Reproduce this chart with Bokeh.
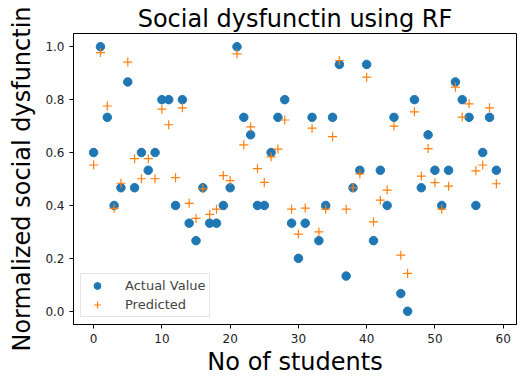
from bokeh.plotting import figure
from bokeh.models import Legend, LegendItem, FixedTicker, Range1d
from bokeh.embed import file_html
from bokeh.resources import INLINE

students = list(range(60))
actual = [0.6, 1.0, 0.733, 0.4, 0.467, 0.867, 0.467, 0.6, 0.533, 0.6,
          0.8, 0.8, 0.4, 0.8, 0.333, 0.267, 0.467, 0.333, 0.333, 0.4,
          0.467, 1.0, 0.733, 0.667, 0.4, 0.4, 0.6, 0.733, 0.8, 0.333,
          0.2, 0.333, 0.733, 0.267, 0.4, 0.733, 0.933, 0.133, 0.467, 0.533,
          0.933, 0.267, 0.533, 0.4, 0.733, 0.067, 0.0, 0.8, 0.467, 0.667,
          0.533, 0.4, 0.533, 0.867, 0.8, 0.733, 0.4, 0.6, 0.733, 0.533]
predicted = [0.553, 0.978, 0.776, 0.389, 0.484, 0.942, 0.577, 0.501, 0.577, 0.501,
             0.764, 0.705, 0.505, 0.769, 0.408, 0.351, 0.463, 0.366, 0.386, 0.513,
             0.494, 0.973, 0.629, 0.697, 0.539, 0.487, 0.584, 0.613, 0.723, 0.386,
             0.292, 0.39, 0.692, 0.30, 0.386, 0.66, 0.948, 0.386, 0.467, 0.519,
             0.885, 0.338, 0.42, 0.458, 0.70, 0.212, 0.143, 0.754, 0.511, 0.615,
             0.486, 0.386, 0.473, 0.847, 0.734, 0.784, 0.531, 0.553, 0.769, 0.482]
x_ticks = [0, 10, 20, 30, 40, 50, 60]
y_ticks = [0.0, 0.2, 0.4, 0.6, 0.8, 1.0]

FONT = "DejaVu Sans"

p = figure(width=528, height=378, output_backend="svg", toolbar_location=None,
           x_range=Range1d(-2.95, 61.95), y_range=Range1d(-0.05, 1.05),
           min_border_left=73, min_border_right=12, min_border_top=33, min_border_bottom=54)

p.title.text = "Social dysfunctin using RF"
p.title.align = "center"
p.title.text_font = FONT
p.title.text_font_size = "24px"
p.title.text_font_style = "normal"
p.title.text_color = "black"
p.title.standoff = 2

p.xgrid.visible = False
p.ygrid.visible = False
p.outline_line_color = "black"
p.outline_line_width = 1
p.background_fill_color = "white"
p.border_fill_color = "white"

for ax in (p.xaxis[0], p.yaxis[0]):
    ax.major_tick_in = 0
    ax.major_tick_out = 4
    ax.minor_tick_in = 0
    ax.minor_tick_out = 0
    ax.major_label_text_font = FONT
    ax.major_label_text_font_size = "12px"
    ax.major_label_text_color = "#222222"
    ax.axis_label_text_font = FONT
    ax.axis_label_text_font_size = "24px"
    ax.axis_label_text_font_style = "normal"
    ax.axis_label_text_color = "black"
    ax.axis_line_color = "black"

p.xaxis.ticker = FixedTicker(ticks=x_ticks)
p.yaxis.ticker = FixedTicker(ticks=y_ticks)
p.yaxis.major_label_overrides = {t: f"{t:.1f}" for t in y_ticks}
p.xaxis.axis_label = "No of students"
p.yaxis.axis_label = "Normalized social dysfunctin"
p.xaxis.axis_label_standoff = 2
p.yaxis.axis_label_standoff = 6

r1 = p.scatter(students, actual, marker="circle", size=8.5, fill_color="#1f77b4",
               line_color="#1f77b4")
r2 = p.scatter(students, predicted, marker="cross", size=9, line_color="#ff7f0e",
               line_width=1.2)

legend = Legend(items=[LegendItem(label="Actual Value", renderers=[r1]),
                       LegendItem(label="Predicted", renderers=[r2])],
                location="bottom_left")
legend.label_text_font = FONT
legend.label_text_font_size = "13px"
legend.border_line_color = "#cccccc"
legend.border_line_width = 1
legend.background_fill_alpha = 0.8
legend.margin = 7
legend.padding = 3
legend.spacing = 2
legend.glyph_width = 26
legend.glyph_height = 17
legend.label_height = 17
legend.label_standoff = 15
p.add_layout(legend)

open("out.html", "w").write(file_html(p, INLINE))
